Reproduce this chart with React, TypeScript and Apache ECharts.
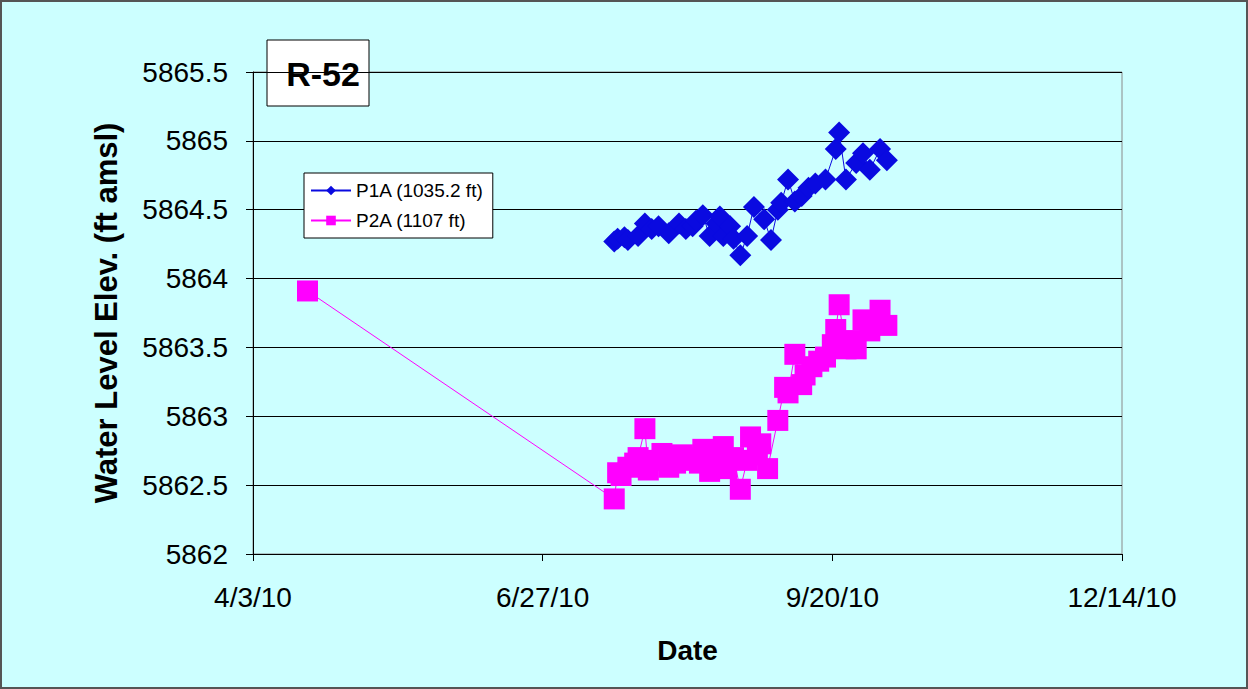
import React, { useEffect, useRef } from "react";
import * as echarts from "echarts";

// Water level elevations (ft amsl) at well R-52, two sampling ports.
const p1aDates = [
  "2010-07-18", "2010-07-19", "2010-07-21", "2010-07-22", "2010-07-25", "2010-07-27",
  "2010-07-29", "2010-07-31", "2010-08-03", "2010-08-06", "2010-08-08", "2010-08-10",
  "2010-08-11", "2010-08-13", "2010-08-15", "2010-08-17", "2010-08-18", "2010-08-19",
  "2010-08-21", "2010-08-22", "2010-08-24", "2010-08-26", "2010-08-28", "2010-08-31",
  "2010-09-02", "2010-09-04", "2010-09-05", "2010-09-07", "2010-09-09", "2010-09-11",
  "2010-09-13", "2010-09-15", "2010-09-18", "2010-09-21", "2010-09-22", "2010-09-24",
  "2010-09-27", "2010-09-29", "2010-10-01", "2010-10-04", "2010-10-06",
];
const p1aLevels = [
  5864.27, 5864.29, 5864.3, 5864.28, 5864.31, 5864.4,
  5864.36, 5864.38, 5864.33, 5864.4, 5864.36, 5864.38,
  5864.42, 5864.46, 5864.31, 5864.4, 5864.45, 5864.31,
  5864.38, 5864.29, 5864.17, 5864.31, 5864.52, 5864.43,
  5864.28, 5864.5, 5864.55, 5864.72, 5864.56, 5864.6,
  5864.66, 5864.69, 5864.72, 5864.94, 5865.06, 5864.72,
  5864.84, 5864.91, 5864.79, 5864.94, 5864.86,
];

const p2aDates = [
  "2010-04-19", "2010-07-18", "2010-07-19", "2010-07-20", "2010-07-22", "2010-07-24",
  "2010-07-25", "2010-07-27", "2010-07-28", "2010-07-30", "2010-08-01", "2010-08-03",
  "2010-08-05", "2010-08-07", "2010-08-09", "2010-08-10", "2010-08-12", "2010-08-13",
  "2010-08-15", "2010-08-17", "2010-08-19", "2010-08-20", "2010-08-22", "2010-08-24",
  "2010-08-26", "2010-08-27", "2010-08-29", "2010-08-30", "2010-09-01", "2010-09-04",
  "2010-09-06", "2010-09-07", "2010-09-09", "2010-09-11", "2010-09-12", "2010-09-14",
  "2010-09-16", "2010-09-18", "2010-09-20", "2010-09-21", "2010-09-22", "2010-09-24",
  "2010-09-26", "2010-09-27", "2010-09-29", "2010-10-01", "2010-10-03", "2010-10-04",
  "2010-10-06",
];
const p2aLevels = [
  5863.91, 5862.4, 5862.59, 5862.57, 5862.63, 5862.66,
  5862.7, 5862.91, 5862.61, 5862.68, 5862.73, 5862.63,
  5862.66, 5862.72, 5862.7, 5862.68, 5862.66, 5862.76,
  5862.6, 5862.7, 5862.78, 5862.62, 5862.7, 5862.47,
  5862.68, 5862.85, 5862.72, 5862.8, 5862.62, 5862.97,
  5863.21, 5863.17, 5863.45, 5863.23, 5863.3, 5863.36,
  5863.4, 5863.43, 5863.52, 5863.63, 5863.81, 5863.49,
  5863.55, 5863.49, 5863.7, 5863.62, 5863.68, 5863.77,
  5863.66,
];

const seriesNames = ["P1A (1035.2 ft)", "P2A (1107 ft)"];

// Date axis: day offsets from the first tick (4/3/10), ticks every 85 days.
const axisStart = "2010-04-03";
const dayMin = 0;
const dayMax = 255;
const dayStep = 85;
const levelMin = 5862;
const levelMax = 5865.5;
const levelStep = 0.5;

const DAY_MS = 86400000;
const dayOffset = (d: string) => Math.round((Date.parse(d) - Date.parse(axisStart)) / DAY_MS);
const dayLabel = (n: number) => {
  const dt = new Date(Date.parse(axisStart) + n * DAY_MS);
  return `${dt.getUTCMonth() + 1}/${dt.getUTCDate()}/${String(dt.getUTCFullYear() % 100).padStart(2, "0")}`;
};

const FONT = "'Liberation Sans', Arial, sans-serif";
const BG = "#ccffff";

export default function App() {
  const ref = useRef<HTMLDivElement>(null);

  useEffect(() => {
    if (!ref.current) return;
    const chart = echarts.init(ref.current, null, { renderer: "svg" });
    const p1a = p1aDates.map((d, i) => [dayOffset(d), p1aLevels[i]]);
    const p2a = p2aDates.map((d, i) => [dayOffset(d), p2aLevels[i]]);

    chart.setOption({
      animation: false,
      backgroundColor: BG,
      textStyle: { fontFamily: FONT },
      grid: {
        left: 253,
        right: 126,
        top: 72,
        bottom: 135,
        show: true,
        backgroundColor: BG,
        borderColor: "#8a8a8a",
        borderWidth: 1,
      },
      xAxis: {
        type: "value",
        min: dayMin,
        max: dayMax,
        interval: dayStep,
        name: "Date",
        nameLocation: "middle",
        nameGap: 82,
        nameTextStyle: { fontFamily: FONT, fontSize: 28, fontWeight: "bold", color: "#000" },
        axisLine: { show: true, onZero: false, lineStyle: { color: "#000", width: 1 } },
        axisTick: { show: true, inside: false, length: 7, lineStyle: { color: "#000" } },
        axisLabel: {
          fontFamily: FONT,
          fontSize: 28,
          color: "#000",
          margin: 29,
          formatter: (v: number) => dayLabel(v),
        },
        splitLine: { show: false },
      },
      yAxis: {
        type: "value",
        min: levelMin,
        max: levelMax,
        interval: levelStep,
        name: "Water Level Elev. (ft amsl)",
        nameLocation: "middle",
        nameGap: 131,
        nameTextStyle: { fontFamily: FONT, fontSize: 31, fontWeight: "bold", color: "#000" },
        axisLine: { show: true, lineStyle: { color: "#000", width: 1 } },
        axisTick: { show: true, inside: false, length: 7, lineStyle: { color: "#000" } },
        axisLabel: {
          fontFamily: FONT,
          fontSize: 28,
          color: "#000",
          margin: 25,
          formatter: (v: number) => String(v),
        },
        splitLine: { show: true, lineStyle: { color: "#000", width: 1 } },
      },
      legend: {
        left: 304,
        top: 173,
        orient: "vertical",
        backgroundColor: "#ffffff",
        borderColor: "#000",
        borderWidth: 1,
        padding: [8, 9, 8, 6],
        itemGap: 11,
        itemWidth: 40,
        itemHeight: 12,
        textStyle: { fontFamily: FONT, fontSize: 19, color: "#000" },
        data: seriesNames,
      },
      series: [
        {
          name: seriesNames[0],
          type: "line",
          data: p1a,
          symbol: "diamond",
          symbolSize: 22,
          itemStyle: { color: "#0a0ae0" },
          lineStyle: { color: "#0a0ae0", width: 1 },
        },
        {
          name: seriesNames[1],
          type: "line",
          data: p2a,
          symbol: "rect",
          symbolSize: 21,
          itemStyle: { color: "#ff00ff" },
          lineStyle: { color: "#ff00ff", width: 1 },
        },
      ],
      graphic: [
        {
          type: "rect",
          shape: { x: 1, y: 1, width: 1246, height: 687 },
          style: { fill: "none", stroke: "#555", lineWidth: 2 },
          z: 100,
        },
        {
          type: "group",
          z: 100,
          children: [
            {
              type: "rect",
              shape: { x: 267, y: 40, width: 102, height: 66 },
              style: { fill: "#fff", stroke: "#000", lineWidth: 1 },
            },
            {
              type: "text",
              x: 323,
              y: 74,
              style: {
                text: "R-52",
                fontFamily: FONT,
                fontSize: 34,
                fontWeight: "bold",
                fill: "#000",
                align: "center",
                verticalAlign: "middle",
              },
            },
          ],
        },
      ],
    });

    return () => chart.dispose();
  }, []);

  return (
    <div
      ref={ref}
      style={{ position: "fixed", left: 0, top: 0, width: 1248, height: 689 }}
    />
  );
}
